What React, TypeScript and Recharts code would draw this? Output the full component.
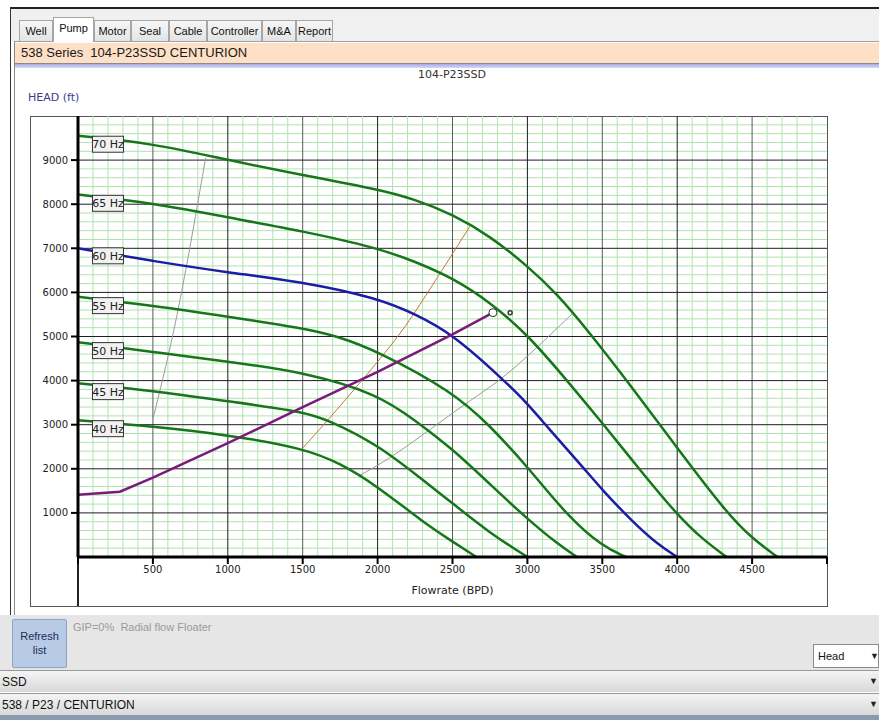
import React from 'react';
import { LineChart, Line, XAxis, YAxis, ReferenceLine, ReferenceDot } from 'recharts';

// pump head curves, [flowrate BPD, head ft]
const HZ70 = [[0, 9550], [500, 9380], [1000, 9000], [1500, 8660], [2000, 8340], [2250, 8110], [2500, 7770], [2750, 7280], [3000, 6600], [3200, 5960], [3400, 5150], [3660, 4020], [4000, 2470], [4330, 1000], [4500, 420], [4670, 0]];
const HZ65 = [[0, 8220], [500, 8030], [1000, 7700], [1500, 7390], [2000, 7010], [2250, 6700], [2500, 6330], [2750, 5780], [3000, 5050], [3260, 4020], [3500, 3040], [3750, 1980], [4000, 955], [4175, 385], [4330, 0]];
const HZ60 = [[0, 7000], [500, 6710], [1000, 6450], [1500, 6240], [2000, 5870], [2250, 5510], [2500, 5060], [2840, 4020], [3000, 3480], [3130, 2960], [3385, 1980], [3500, 1520], [3690, 840], [3860, 310], [4000, 0]];
const HZ55 = [[0, 5900], [500, 5700], [1000, 5450], [1500, 5190], [1730, 5010], [2000, 4670], [2500, 3750], [2750, 2980], [3000, 2050], [3260, 955], [3500, 235], [3660, 0]];
const HZ50 = [[0, 4870], [500, 4650], [1000, 4430], [1500, 4200], [2000, 3700], [2250, 3100], [2500, 2450], [2750, 1650], [3000, 860], [3200, 300], [3330, 0]];
const HZ45 = [[0, 3940], [500, 3770], [1000, 3530], [1500, 3300], [1670, 3110], [2000, 2550], [2300, 1750], [2500, 1220], [2750, 540], [3000, 0]];
const HZ40 = [[0, 3100], [500, 2960], [1000, 2770], [1500, 2470], [1750, 2130], [2000, 1600], [2300, 800], [2500, 350], [2660, 0]];

// system curve
const SYSTEM = [[0, 1410], [280, 1480], [500, 1800], [1000, 2580], [1500, 3400], [2000, 4200], [2500, 5050], [2770, 5540]];
// operating range / BEP lines
const MIN_FLOW = [[500, 3130], [600, 4500], [680, 5780], [760, 7250], [852, 9050]];
const BEP = [[1500, 2470], [1670, 3110], [1900, 4020], [2060, 4670], [2170, 5160], [2250, 5550], [2430, 6500], [2620, 7520]];
const MAX_FLOW = [[1870, 1830], [2110, 2280], [2570, 3450], [2830, 4020], [3080, 4800], [3300, 5520]];

const OP_POINT = [2770, 5540];
const CURSOR = [2885, 5540];

const HZ_LABELS = ['70 Hz', '65 Hz', '60 Hz', '55 Hz', '50 Hz', '45 Hz', '40 Hz'];
const HZ_LABEL_POS = [[200, 9360], [200, 8020], [200, 6830], [200, 5700], [200, 4680], [200, 3750], [200, 2910]];

const X_TICKS = [0, 500, 1000, 1500, 2000, 2500, 3000, 3500, 4000, 4500, 5000];
const Y_TICKS = [1000, 2000, 3000, 4000, 5000, 6000, 7000, 8000, 9000];
const X_MAJOR = [500, 1000, 1500, 2000, 2500, 3000, 3500, 4000, 4500];
const Y_MAJOR = [1000, 2000, 3000, 4000, 5000, 6000, 7000, 8000, 9000];
const X_MINOR = Array.from({ length: 49 }, (_, i) => (i + 1) * 100).filter((v) => v % 500 !== 0);
const Y_MINOR = Array.from({ length: 49 }, (_, i) => (i + 1) * 200).filter((v) => v % 1000 !== 0);

const TABS = ['Well', 'Pump', 'Motor', 'Seal', 'Cable', 'Controller', 'M&A', 'Report'];
const TAB_X = [19, 53, 94, 131, 169, 207, 262, 296, 333];

const pts = (arr: number[][]) => arr.map(([q, h]) => ({ q, h }));

const GREEN = '#16761a';
const MINOR = '#b0e2b0';
const FONT = '"DejaVu Sans", sans-serif';
const UI_FONT = '"Liberation Sans", Arial, sans-serif';

const HzBox = (label: string) => (props: any) => {
  const { cx, cy } = props;
  return (
    <g>
      <rect x={cx - 15.5} y={cy - 8} width={31} height={16} fill="#f1f1f1" stroke="#333" strokeWidth={1} />
      <text x={cx} y={cy + 4} textAnchor="middle" fontSize={11} fontFamily={FONT} fill="#222">{label}</text>
    </g>
  );
};

const abs = (s: React.CSSProperties): React.CSSProperties => ({ position: 'absolute', ...s });

const Bar = ({ top, text }: { top: number; text: string }) => (
  <div style={abs({ left: 0, top, width: 879, height: 22, background: 'linear-gradient(#f4f4f4, #d9d9d9)', borderTop: '1px solid #9a9a9a', boxSizing: 'border-box' })}>
    <span style={abs({ left: 2, top: 4, fontSize: 12, fontFamily: UI_FONT, color: '#111' })}>{text}</span>
    <span style={abs({ left: 869, top: 5, fontSize: 9, color: '#222' })}>▼</span>
  </div>
);

const curve = (arr: number[][], color: string, width = 2.5) => (
  <Line data={pts(arr)} dataKey="h" type="basis" stroke={color} strokeWidth={width} dot={false} isAnimationActive={false} />
);

export default function App() {
  return (
    <div style={abs({ left: 0, top: 0, width: 879, height: 720, overflow: 'hidden', background: '#fff', fontFamily: UI_FONT })}>
      {/* window borders */}
      <div style={abs({ left: 10, top: 7, width: 869, height: 2, background: '#222' })} />
      <div style={abs({ left: 10, top: 7, width: 1, height: 610, background: '#333' })} />
      <div style={abs({ left: 14, top: 41, width: 1, height: 576, background: '#888' })} />

      {/* tab strip */}
      <div style={abs({ left: 11, top: 9, width: 868, height: 32, background: '#f0f0f0' })} />
      {TABS.map((t, i) => {
        const sel = t === 'Pump';
        return (
          <div key={t} style={abs({
            left: TAB_X[i], top: sel ? 17 : 20, width: TAB_X[i + 1] - TAB_X[i], height: sel ? 25 : 21,
            background: sel ? '#fff' : 'linear-gradient(#f6f6f6, #e4e4e4)', border: '1px solid #a6a6a6', borderBottom: 'none',
            boxSizing: 'border-box', fontSize: 11, lineHeight: '20px', textAlign: 'center', color: '#111', zIndex: sel ? 2 : 1,
          })}>{t}</div>
        );
      })}
      <div style={abs({ left: 15, top: 41, width: 864, height: 1, background: '#a0a0a0' })} />

      {/* header band */}
      <div style={abs({ left: 15, top: 43, width: 864, height: 20, background: '#fde0c5', borderBottom: '1px solid #8a8a8a' })}>
        <span style={abs({ left: 6, top: 2, fontSize: 13, color: '#1a1a1a', whiteSpace: 'pre' })}>538 Series  104-P23SSD CENTURION</span>
      </div>
      <div style={abs({ left: 15, top: 64, width: 864, height: 4, background: 'linear-gradient(#a9a9e6, #d8d8f6)' })} />

      <div style={abs({ left: 352, top: 68, width: 200, textAlign: 'center', fontSize: 11, fontFamily: FONT, color: '#333' })}>104-P23SSD</div>
      <div style={abs({ left: 28, top: 91, fontSize: 11, fontFamily: FONT, color: '#3b3b90' })}>HEAD (ft)</div>

      {/* chart frame */}
      <div style={abs({ left: 30, top: 116, width: 798, height: 491, border: '1px solid #555', boxSizing: 'border-box' })} />
      <div style={abs({ left: 77, top: 557, width: 2, height: 49, background: '#222' })} />

      <div style={abs({ left: 0, top: 0 })}>
        <LineChart width={879} height={720} margin={{ top: 116, right: 52, bottom: 123, left: 30 }}>
          <XAxis
            type="number" dataKey="q" domain={[0, 5000]} ticks={X_TICKS} height={40}
            axisLine={{ stroke: '#000', strokeWidth: 3 }} tickLine={{ stroke: '#000', strokeWidth: 2 }} tickSize={7}
            tick={{ fontSize: 10, fontFamily: FONT, fill: '#222' }}
            tickFormatter={(v: number) => (v === 0 || v === 5000 ? '' : String(v))}
            label={{ value: 'Flowrate (BPD)', position: 'insideBottom', offset: 3, fontSize: 11, fontFamily: FONT, fill: '#222' }}
          />
          <YAxis
            type="number" dataKey="h" domain={[0, 10000]} ticks={Y_TICKS} width={48}
            axisLine={{ stroke: '#000', strokeWidth: 3 }} tickLine={{ stroke: '#000', strokeWidth: 2 }} tickSize={7} tickMargin={3}
            tick={{ fontSize: 10, fontFamily: FONT, fill: '#222' }}
          />

          {/* graph-paper grid */}
          {X_MINOR.map((v) => <ReferenceLine key={'xm' + v} x={v} stroke={MINOR} strokeWidth={1} />)}
          {Y_MINOR.map((v) => <ReferenceLine key={'ym' + v} y={v} stroke={MINOR} strokeWidth={1} />)}
          {X_MAJOR.map((v) => <ReferenceLine key={'xM' + v} x={v} stroke={v % 1000 === 0 ? '#1e1e1e' : '#5a5a5a'} strokeWidth={1} />)}
          {Y_MAJOR.map((v) => <ReferenceLine key={'yM' + v} y={v} stroke="#1e1e1e" strokeWidth={1} />)}

          {curve(MIN_FLOW, '#9a9a9a', 1)}
          {curve(BEP, '#c7743c', 1)}
          {curve(MAX_FLOW, '#9a9a9a', 1)}

          {curve(HZ70, GREEN)}
          {curve(HZ65, GREEN)}
          {curve(HZ55, GREEN)}
          {curve(HZ50, GREEN)}
          {curve(HZ45, GREEN)}
          {curve(HZ40, GREEN)}
          {curve(HZ60, '#1c1ca6')}

          <Line data={pts(SYSTEM)} dataKey="h" type="linear" stroke="#7c1a7c" strokeWidth={2.5} dot={false} isAnimationActive={false} />
          <ReferenceDot x={OP_POINT[0]} y={OP_POINT[1]} r={4} fill="#fff" stroke="#333" strokeWidth={1} />
          <ReferenceDot x={CURSOR[0]} y={CURSOR[1]} r={2} fill="#fff" stroke="#333" strokeWidth={1.5} />

          {HZ_LABELS.map((l, i) => (
            <ReferenceDot key={l} x={HZ_LABEL_POS[i][0]} y={HZ_LABEL_POS[i][1]} r={1} shape={HzBox(l)} />
          ))}
        </LineChart>
      </div>

      {/* bottom panel */}
      <div style={abs({ left: 0, top: 615, width: 879, height: 55, background: '#e6e6e6' })} />
      <div style={abs({ left: 12, top: 619, width: 55, height: 49, background: '#b8cbe4', border: '1px solid #8ea3c2', borderRadius: 2, boxSizing: 'border-box', fontSize: 11, color: '#1c2c5c', textAlign: 'center', lineHeight: '14px', paddingTop: 9 })}>
        Refresh<br />list
      </div>
      <div style={abs({ left: 73, top: 621, fontSize: 11, color: '#9a9a9a', whiteSpace: 'pre' })}>GIP=0%  Radial flow Floater</div>
      <div style={abs({ left: 813, top: 644, width: 66, height: 24, background: '#fff', border: '1px solid #8a8a8a', boxSizing: 'border-box' })}>
        <span style={abs({ left: 4, top: 5, fontSize: 11, color: '#111' })}>Head</span>
        <span style={abs({ left: 56, top: 6, fontSize: 9, color: '#222' })}>▼</span>
      </div>
      <Bar top={670} text="SSD" />
      <Bar top={693} text="538 / P23 / CENTURION" />
      <div style={abs({ left: 0, top: 715, width: 879, height: 5, background: '#8c9ab0' })} />
    </div>
  );
}
